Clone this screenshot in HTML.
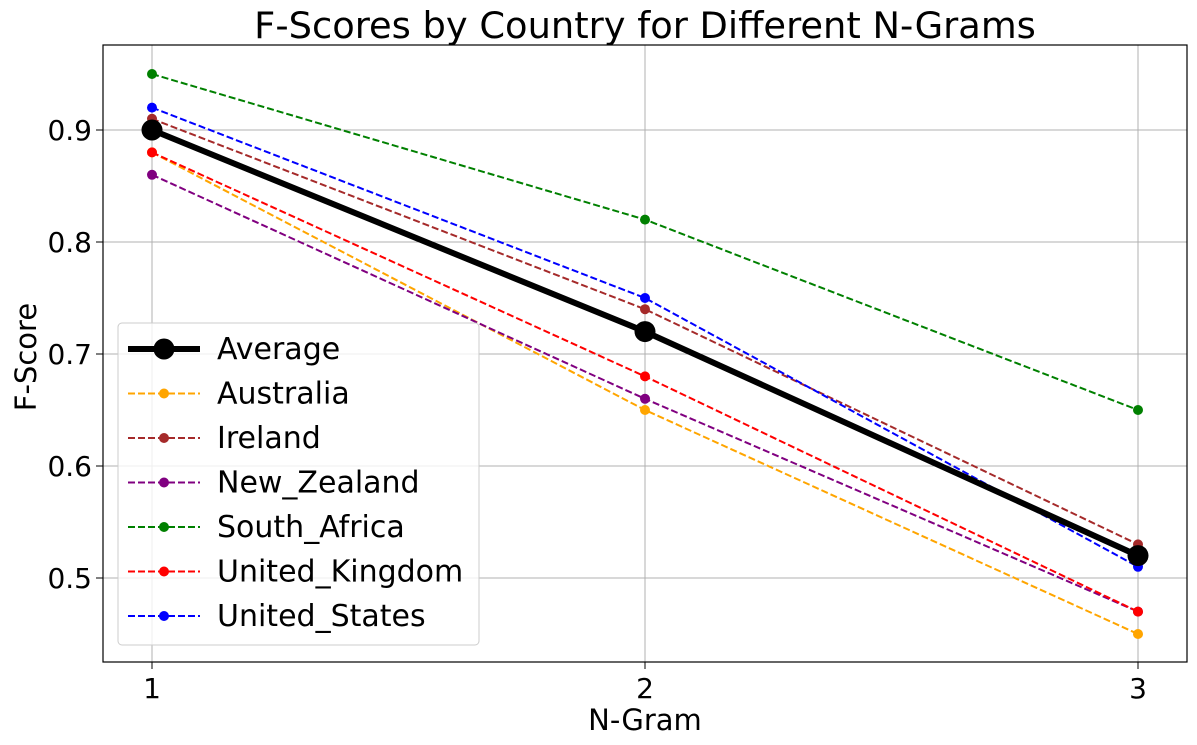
<!DOCTYPE html>
<html><head><meta charset="utf-8"><style>
body{margin:0;background:#fff}
svg{display:block;font-family:"DejaVu Sans","Liberation Sans",sans-serif}
</style></head><body>
<svg id="chart" width="1197" height="745">
<text x="645" y="38" font-size="36.8" text-anchor="middle">F-Scores by Country for Different N-Grams</text>
<g id="grid"></g>
<g id="series"></g>
<rect x="103" y="45" width="1084" height="617" fill="none" stroke="#000" stroke-width="1.2"/>
<g id="ticks"></g>
<text x="645" y="730" font-size="29" text-anchor="middle">N-Gram</text>
<text transform="translate(36,357) rotate(-90)" font-size="29" text-anchor="middle">F-Score</text>
<g id="legend"></g>
</svg>
<script>
const categories=[1,2,3];
const yTicks=[0.5,0.6,0.7,0.8,0.9];
const seriesNames=["Average","Australia","Ireland","New_Zealand","South_Africa","United_Kingdom","United_States"];
const seriesColors=["#000","orange","brown","purple","green","red","blue"];
const average=[0.90,0.72,0.52];
const australia=[0.88,0.65,0.45];
const ireland=[0.91,0.74,0.53];
const newZealand=[0.86,0.66,0.47];
const southAfrica=[0.95,0.82,0.65];
const unitedKingdom=[0.88,0.68,0.47];
const unitedStates=[0.92,0.75,0.51];
const seriesValues=[average,australia,ireland,newZealand,southAfrica,unitedKingdom,unitedStates];
const NS="http://www.w3.org/2000/svg";
const xS=v=>152+(v-1)*493;
const yS=v=>578-(v-0.5)*1120;
function mk(tag,attrs,parent){const e=document.createElementNS(NS,tag);for(const k in attrs)e.setAttribute(k,attrs[k]);parent.appendChild(e);return e;}
const grid=document.getElementById('grid'),ticks=document.getElementById('ticks'),ser=document.getElementById('series'),leg=document.getElementById('legend');
categories.forEach(c=>{
 const l=mk('line',{x1:xS(c),x2:xS(c),y1:45,y2:662,stroke:'#b0b0b0','stroke-width':1},grid);
 
 
 const tk=mk('line',{x1:xS(c),x2:xS(c),y1:662,y2:669,stroke:'#000'},ticks);
 
 
 const t=mk('text',{x:xS(c),y:698,'font-size':28,'text-anchor':'middle'},ticks);t.textContent=c;
 
 
});
yTicks.forEach(v=>{
 const l=mk('line',{x1:103,x2:1187,y1:yS(v),y2:yS(v),stroke:'#b0b0b0','stroke-width':1},grid);
 
 
 const tk=mk('line',{x1:96,x2:103,y1:yS(v),y2:yS(v),stroke:'#000'},ticks);
 
 
 const t=mk('text',{x:92,y:yS(v)+10,'font-size':28,'text-anchor':'end'},ticks);t.textContent=v.toFixed(1);
 
 
});
const order=[1,2,3,4,5,6,0];
order.forEach(i=>{
 const vals=seriesValues[i],avg=i===0;
 const g=mk('g',{},ser);
 
 
 const p=mk('polyline',{points:vals.map((v,j)=>xS(categories[j])+','+yS(v)).join(' '),fill:'none',stroke:seriesColors[i],'stroke-width':avg?6:2,'stroke-dasharray':avg?'none':'7,3'},g);
 
 
 vals.forEach((v,j)=>{const c=mk('circle',{cx:xS(categories[j]),cy:yS(v),r:avg?10.5:5,fill:seriesColors[i]},g);
 
 });
});
const box=mk('rect',{x:118,y:323,width:361,height:322,rx:4,fill:'#fff','fill-opacity':0.8,stroke:'#ccc'},leg);


seriesNames.forEach((n,i)=>{
 const y=349+i*44.5,avg=i===0;
 const g=mk('g',{},leg);
 
 
 mk('line',{x1:128,x2:200,y1:y,y2:y,stroke:seriesColors[i],'stroke-width':avg?6:2,'stroke-dasharray':avg?'none':'7,3'},g);
 mk('circle',{cx:164,cy:y,r:avg?10.5:5,fill:seriesColors[i]},g);
 const t=mk('text',{x:217,y:y+10,'font-size':30},g);t.textContent=n;
});
</script>
</body></html>
